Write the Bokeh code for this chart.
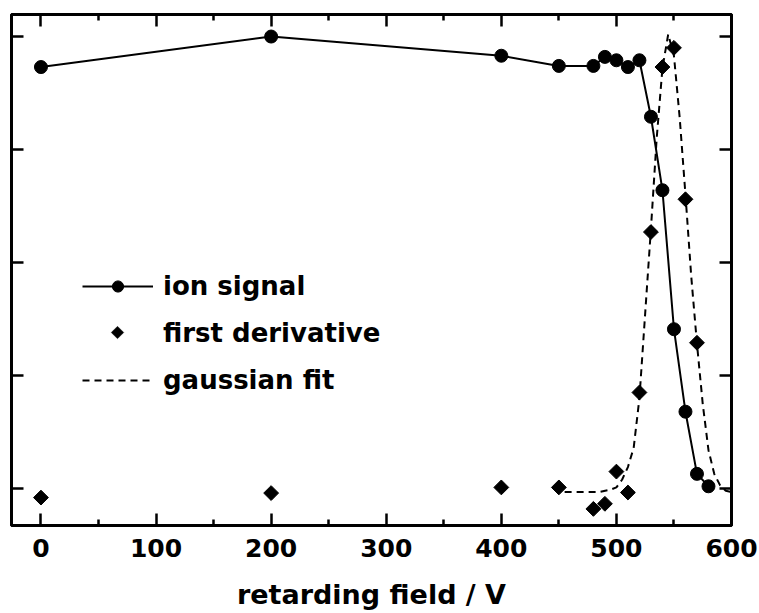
import numpy as np
from bokeh.plotting import figure
from bokeh.models import (LinearAxis, FixedTicker, Legend,
                          LegendItem, Range1d, PolyAnnotation)
from bokeh.embed import file_html
from bokeh.resources import INLINE

# ---- data ----
ion_x = [0, 200, 400, 450, 480, 490, 500, 510, 520, 530, 540, 550, 560, 570, 580]
ion_y = [3.73, 4.00, 3.83, 3.74, 3.74, 3.82, 3.79, 3.73, 3.79, 3.29, 2.64, 1.41, 0.68, 0.13, 0.02]

deriv_x = [0, 200, 400, 450, 480, 490, 500, 510, 520, 530, 540, 550, 560, 570]
deriv_y = [-0.08, -0.04, 0.01, 0.01, -0.18, -0.135, 0.15, -0.035, 0.85, 2.27, 3.73, 3.90, 2.56, 1.29]

fit_x = [455, 470, 485, 495, 500, 505, 510, 515, 520, 525, 530, 535, 540, 545,
         550, 555, 560, 565, 570, 575, 580, 585, 590, 595, 600]
fit_y = [-0.03, -0.03, -0.03, -0.01, 0.01, 0.08, 0.19, 0.36, 0.80, 1.55, 2.30, 3.10, 3.72, 4.02,
         3.83, 3.28, 2.60, 1.88, 1.28, 0.75, 0.34, 0.13, 0.03, -0.02, -0.03]

x_ticks = [0, 100, 200, 300, 400, 500, 600]
x_minor = [50, 150, 250, 350, 450, 550]
y_ticks = [0, 1, 2, 3, 4]
legend_labels = ["ion signal", "first derivative", "gaussian fit"]

FONT = "DejaVu Sans"
W, H = 759, 613
BORDER_L, BORDER_R, BORDER_T, BORDER_B = 11, 28, 14, 88
X0, X1 = -25.6, 600
Y0, Y1 = -0.327, 4.195

p = figure(width=W, height=H, output_backend="svg", toolbar_location=None,
           x_range=Range1d(X0, X1), y_range=Range1d(Y0, Y1),
           x_axis_location=None, y_axis_location=None,
           min_border_left=BORDER_L, min_border_right=BORDER_R,
           min_border_top=BORDER_T, min_border_bottom=BORDER_B)
p.grid.visible = False
p.outline_line_color = "black"
p.outline_line_width = 3
p.background_fill_color = "white"
p.border_fill_color = "white"


def style_axis(ax, labels):
    ax.axis_line_width = 3
    ax.axis_line_color = "black"
    ax.major_tick_in = 12
    ax.major_tick_out = 0
    ax.minor_tick_in = 6
    ax.minor_tick_out = 0
    ax.major_tick_line_width = 2.5
    ax.minor_tick_line_width = 2.5
    if not labels:
        ax.major_label_text_font_size = "1px"
        ax.major_label_text_color = None
        ax.major_label_standoff = 0


xb = LinearAxis(ticker=FixedTicker(ticks=x_ticks, minor_ticks=x_minor))
style_axis(xb, True)
xb.major_label_text_font = FONT
xb.major_label_text_font_style = "bold"
xb.major_label_text_font_size = "25px"
xb.major_label_text_color = "black"
xb.major_label_standoff = 13
xb.axis_label = "retarding field / V"
xb.axis_label_text_font = FONT
xb.axis_label_text_font_style = "bold"
xb.axis_label_text_font_size = "27px"
xb.axis_label_text_color = "black"
xb.axis_label_standoff = 19
p.add_layout(xb, "below")

xt = LinearAxis(ticker=FixedTicker(ticks=x_ticks, minor_ticks=x_minor))
style_axis(xt, False)
p.add_layout(xt, "above")

for side in ("left", "right"):
    ya = LinearAxis(ticker=FixedTicker(ticks=y_ticks))
    style_axis(ya, False)
    ya.minor_tick_line_color = None
    p.add_layout(ya, side)

fit_r = p.line(fit_x, fit_y, line_color="black", line_width=2, line_dash="7 5")
ion_line = p.line(ion_x, ion_y, line_color="black", line_width=2)
ion_pts = p.scatter(ion_x, ion_y, marker="circle", size=13, fill_color="black",
                    line_color="black")
der_pts = p.scatter(deriv_x, deriv_y, marker="square", angle=np.pi / 4, size=10.5,
                    fill_color="black", line_color="black")
# empty, invisible stand-in so the legend row exists (the rotated diamond is drawn below)
der_legend = p.scatter(x=[], y=[], marker="square", size=1, fill_alpha=0, line_alpha=0)

legend = Legend(items=[
    LegendItem(label=legend_labels[0], renderers=[ion_line, ion_pts]),
    LegendItem(label=legend_labels[1], renderers=[der_legend]),
    LegendItem(label=legend_labels[2], renderers=[fit_r]),
], location=(71, 130))
legend.background_fill_alpha = 0
legend.border_line_color = None
legend.padding = 0
legend.margin = 0
legend.glyph_width = 71
legend.glyph_height = 28
legend.label_height = 30
legend.spacing = 17
legend.label_standoff = 10
legend.label_text_font = FONT
legend.label_text_font_style = "bold"
legend.label_text_font_size = "26px"
legend.label_text_color = "black"
p.add_layout(legend)

# legend diamond glyph (rotated square), placed at the legend's second glyph slot
frame_w = W - BORDER_L - BORDER_R
frame_h = H - BORDER_T - BORDER_B
cx_px, cy_px, half_px = 117, 332, 6.3
cx = X0 + (cx_px - BORDER_L) * (X1 - X0) / frame_w
cy = Y1 - (cy_px - BORDER_T) * (Y1 - Y0) / frame_h
dx = half_px * (X1 - X0) / frame_w
dy = half_px * (Y1 - Y0) / frame_h
p.add_layout(PolyAnnotation(xs=[cx, cx + dx, cx, cx - dx], ys=[cy + dy, cy, cy - dy, cy],
                            fill_color="black", fill_alpha=1, line_color="black",
                            line_width=1))

open("out.html", "w").write(file_html(p, INLINE))
